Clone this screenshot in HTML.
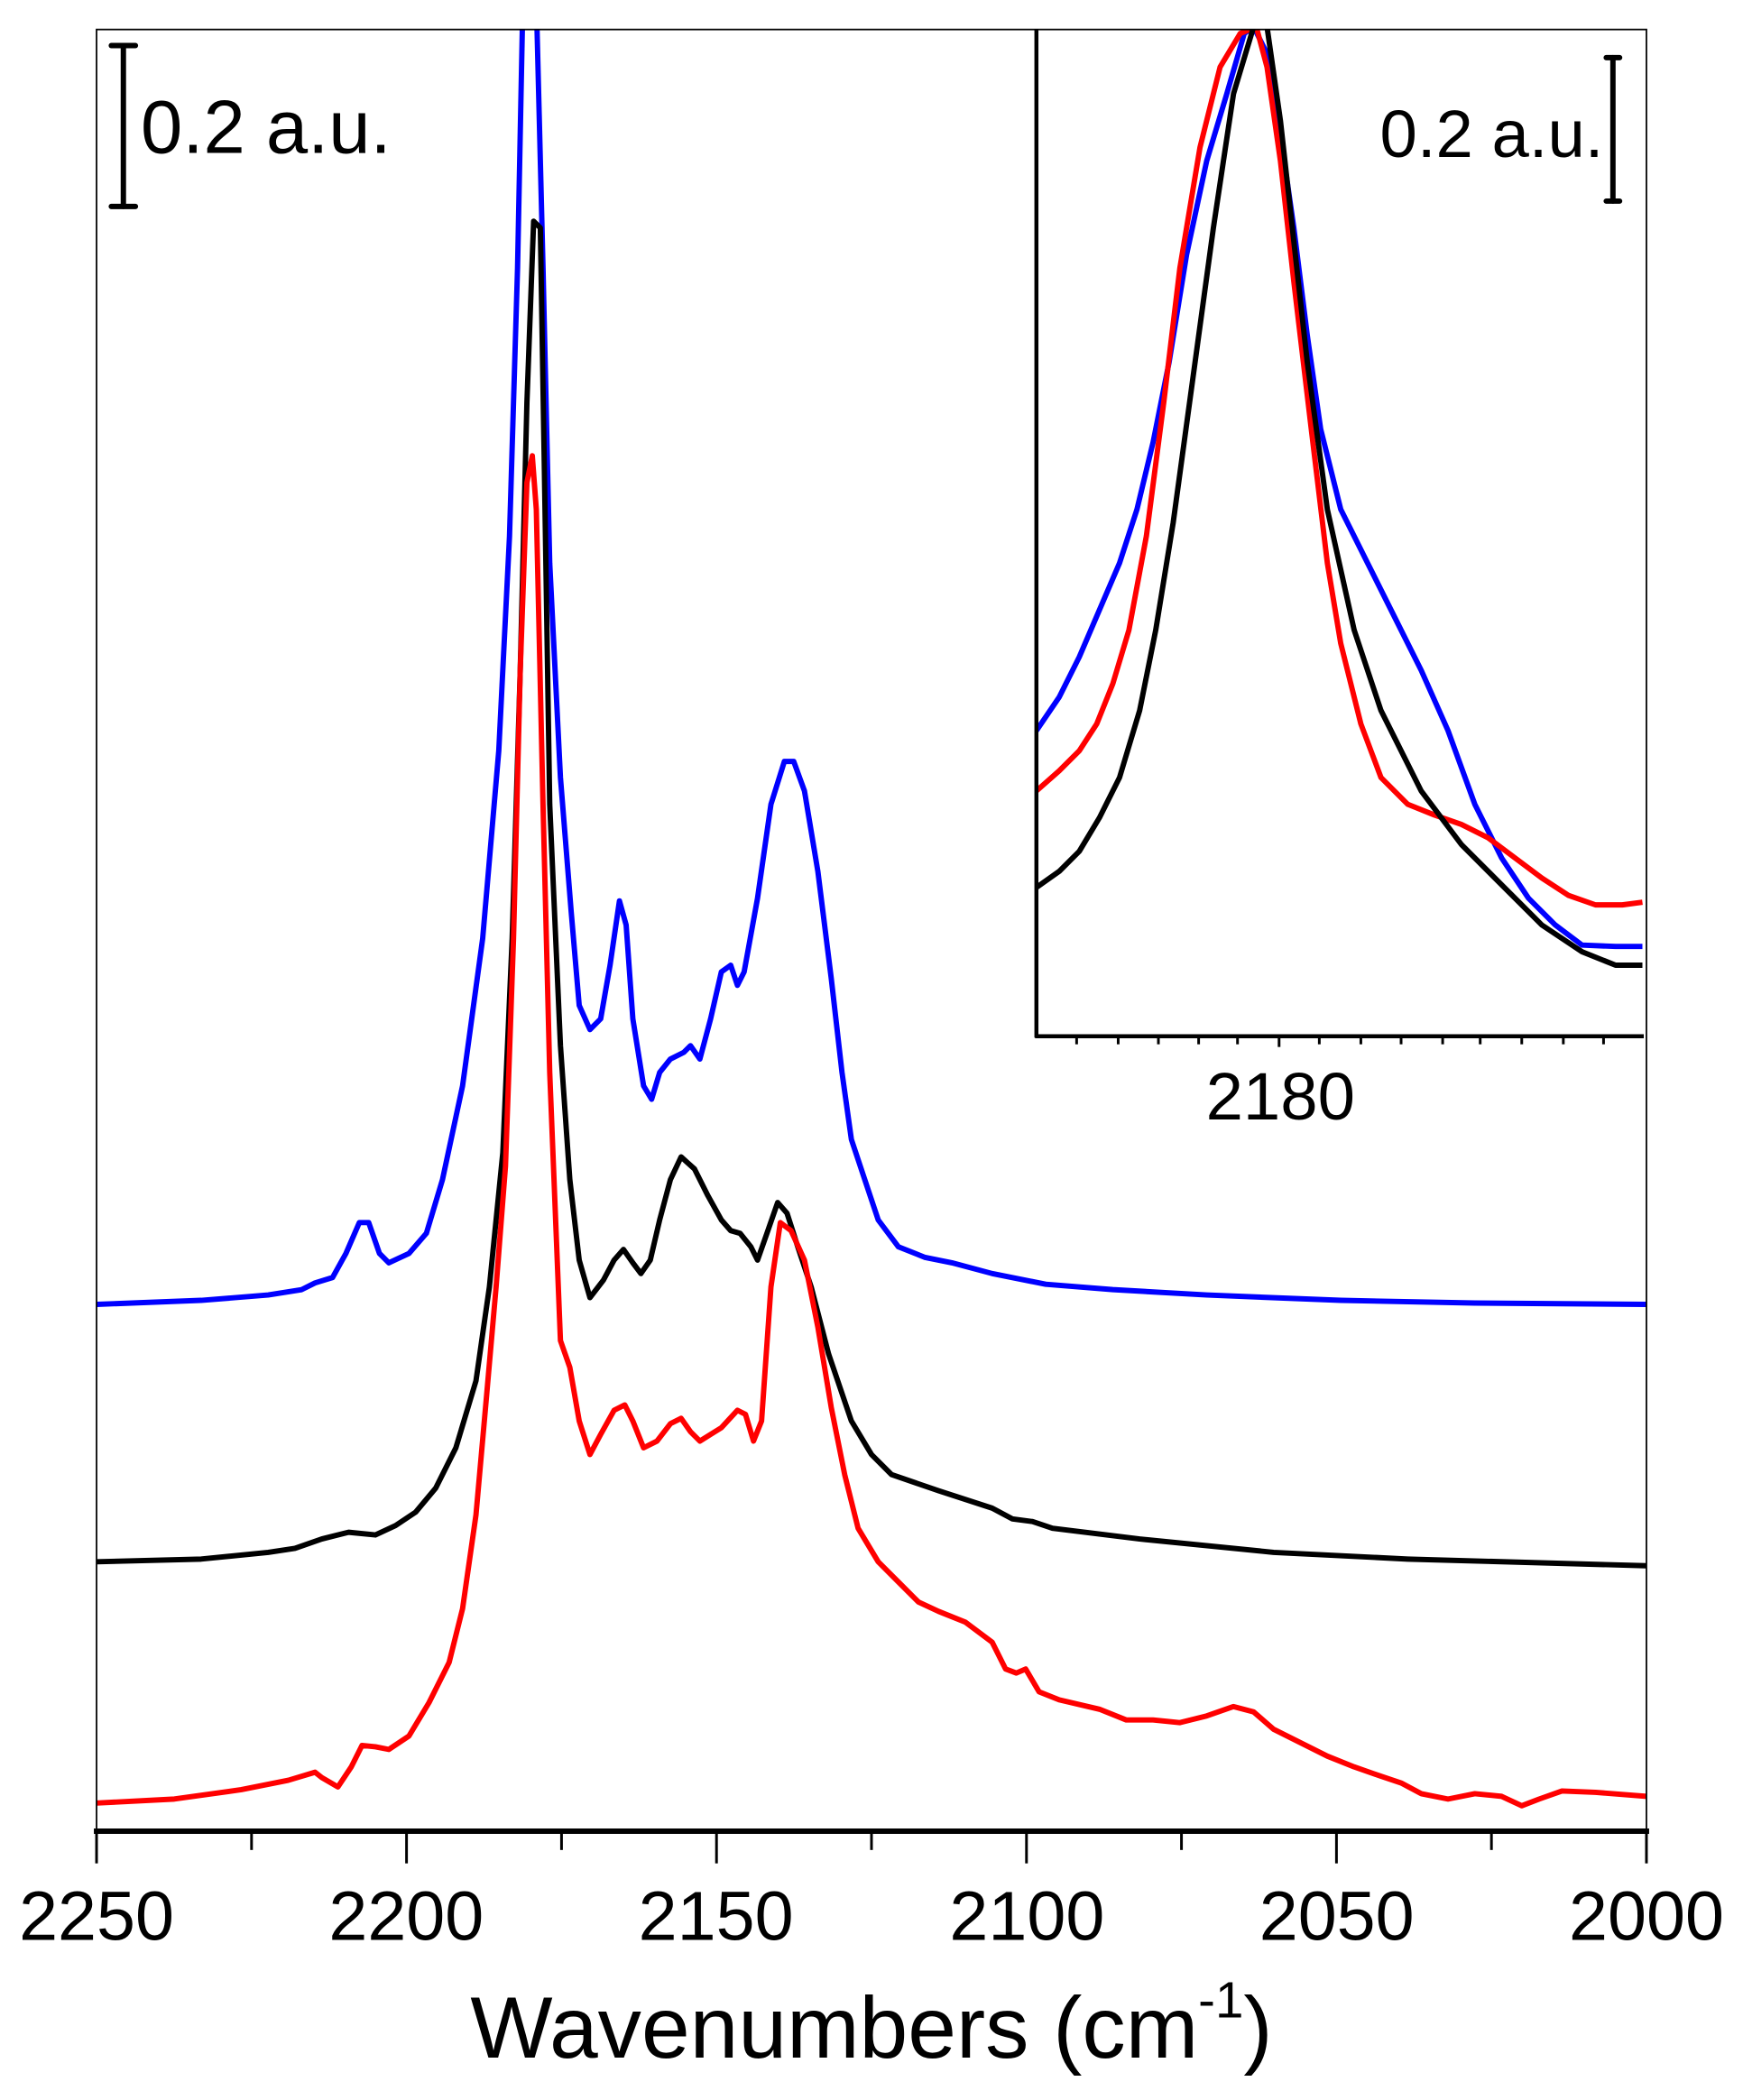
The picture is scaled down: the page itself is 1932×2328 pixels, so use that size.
<!DOCTYPE html>
<html><head><meta charset="utf-8"><style>html,body{margin:0;padding:0;background:#fff}svg{display:block}</style></head>
<body>
<svg width="1932" height="2328" viewBox="0 0 1300 1566.5" xmlns="http://www.w3.org/2000/svg" font-family="Liberation Sans, Arial, sans-serif">
<rect width="1300" height="1566.5" fill="#fff"/>
<defs><clipPath id="c"><rect x="72" y="22" width="1156" height="1344"/></clipPath>
<clipPath id="ci"><rect x="773" y="22" width="455" height="751"/></clipPath></defs>
<g clip-path="url(#c)" fill="none" stroke-width="4" stroke-linejoin="round">
<polyline stroke="#0000ff" points="72,973 150,970 200,966 225,962 235,957 248,953 258,935 268,912 275,912 283,935 290,942 305,935 318,920 330,880 345,810 360,700 372,560 380,400 386,200 390,0 400,0 405,200 410,420 418,580 426,680 432,750 440,768 448,760 455,720 462,672 467,690 472,760 480,810 486,820 492,800 500,790 510,785 515,780 522,790 530,760 538,725 545,720 550,735 555,725 565,670 575,600 585,568 592,568 600,590 610,650 620,730 628,800 635,850 645,880 655,910 670,930 690,938 710,942 740,950 780,958 830,962 900,966 1000,970 1100,972 1228,973"/>
<polyline stroke="#000" points="72,1165 150,1163 200,1158 220,1155 240,1148 260,1143 280,1145 295,1138 310,1128 325,1110 340,1080 355,1030 365,960 375,860 382,700 388,500 393,300 398,165 403,170 406,350 410,600 418,780 425,880 432,940 440,968 450,955 458,940 465,932 472,942 478,950 485,940 492,910 500,880 508,863 518,872 528,892 538,910 545,918 552,920 560,930 565,940 572,920 580,897 587,905 595,930 605,960 618,1010 635,1060 650,1085 665,1100 700,1112 740,1125 755,1133 770,1135 785,1140 850,1148 950,1158 1050,1163 1228,1168"/>
<polyline stroke="#ff0000" points="72,1345 130,1342 180,1335 215,1328 235,1322 240,1326 252,1333 262,1318 270,1302 280,1303 290,1305 305,1295 320,1270 335,1240 345,1200 355,1130 363,1040 370,960 377,870 383,700 388,500 393,360 397,340 400,380 405,600 410,800 418,1000 425,1020 432,1060 440,1085 448,1070 458,1052 466,1048 472,1060 480,1080 490,1075 500,1062 508,1058 515,1068 522,1075 530,1070 538,1065 550,1052 556,1055 562,1075 568,1060 575,960 582,912 590,918 600,940 610,990 620,1050 630,1100 640,1140 655,1165 670,1180 685,1195 700,1202 720,1210 740,1225 750,1245 758,1248 765,1245 775,1262 790,1268 820,1275 840,1283 860,1283 880,1285 900,1280 920,1273 935,1277 950,1290 970,1300 990,1310 1010,1318 1030,1325 1045,1330 1060,1338 1080,1342 1100,1338 1120,1340 1135,1347 1148,1342 1165,1336 1190,1337 1228,1340"/>
</g>
<!-- inset -->
<rect x="773" y="22" width="455" height="751" fill="#fff"/>
<g clip-path="url(#ci)" fill="none" stroke-width="4" stroke-linejoin="round">
<polyline stroke="#0000ff" points="773,545 790,520 805,490 820,455 835,420 848,380 860,330 872,270 885,190 900,120 915,70 928,25 935,20 945,40 955,100 965,170 975,250 985,320 1000,380 1020,420 1040,460 1060,500 1080,545 1100,600 1120,640 1140,670 1160,690 1180,705 1205,706 1225,706"/>
<polyline stroke="#ff0000" points="773,590 790,575 805,560 818,540 830,510 842,470 855,400 868,300 880,200 895,110 910,50 925,25 937,20 945,50 955,120 965,210 978,320 990,420 1000,480 1015,540 1030,580 1050,600 1070,608 1090,615 1110,625 1130,640 1150,655 1170,668 1190,675 1210,675 1225,673"/>
<polyline stroke="#000" points="773,662 790,650 805,635 820,610 835,580 850,530 862,470 875,390 890,280 905,170 920,70 935,20 945,20 955,90 965,180 975,270 990,380 1010,470 1030,530 1060,590 1090,630 1120,660 1150,690 1180,710 1205,720 1225,720"/>
</g>
<g stroke="#000" stroke-width="3">
<line x1="773" y1="22" x2="773" y2="774"/>
<line x1="772" y1="773" x2="1226" y2="773"/>
</g>
<g stroke="#000" stroke-width="2">
<line x1="803" y1="773" x2="803" y2="779"/><line x1="834" y1="773" x2="834" y2="779"/><line x1="864" y1="773" x2="864" y2="779"/><line x1="894" y1="773" x2="894" y2="779"/><line x1="923" y1="773" x2="923" y2="779"/><line x1="954" y1="773" x2="954" y2="781"/><line x1="984" y1="773" x2="984" y2="779"/><line x1="1015" y1="773" x2="1015" y2="779"/><line x1="1045" y1="773" x2="1045" y2="779"/><line x1="1076" y1="773" x2="1076" y2="779"/><line x1="1104" y1="773" x2="1104" y2="779"/><line x1="1135" y1="773" x2="1135" y2="779"/><line x1="1166" y1="773" x2="1166" y2="779"/><line x1="1196" y1="773" x2="1196" y2="779"/>
</g>
<text x="955" y="835" font-size="50" text-anchor="middle">2180</text>
<!-- frame -->
<rect x="72" y="22" width="1156" height="1344" fill="none" stroke="#000" stroke-width="1.2"/>
<line x1="70" y1="1366" x2="1230" y2="1366" stroke="#000" stroke-width="4"/>
<g stroke="#000" stroke-width="2">
<line x1="72" y1="1366" x2="72" y2="1390"/><line x1="187.6" y1="1366" x2="187.6" y2="1380"/>
<line x1="303.2" y1="1366" x2="303.2" y2="1390"/><line x1="418.8" y1="1366" x2="418.8" y2="1380"/>
<line x1="534.4" y1="1366" x2="534.4" y2="1390"/><line x1="650" y1="1366" x2="650" y2="1380"/>
<line x1="765.6" y1="1366" x2="765.6" y2="1390"/><line x1="881.2" y1="1366" x2="881.2" y2="1380"/>
<line x1="996.8" y1="1366" x2="996.8" y2="1390"/><line x1="1112.4" y1="1366" x2="1112.4" y2="1380"/>
<line x1="1228" y1="1366" x2="1228" y2="1390"/>
</g>
<g font-size="52" text-anchor="middle">
<text x="72" y="1447">2250</text><text x="303" y="1447">2200</text><text x="534" y="1447">2150</text>
<text x="766" y="1447">2100</text><text x="997" y="1447">2050</text><text x="1228" y="1447">2000</text>
</g>
<text x="650" y="1535" font-size="65" text-anchor="middle">Wavenumbers (cm<tspan font-size="38" dy="-30">-1</tspan><tspan dy="30">)</tspan></text>
<!-- scale bars -->
<g stroke="#000" stroke-width="4" stroke-linecap="round">
<line x1="92" y1="34" x2="92" y2="154"/><line x1="83" y1="34" x2="101" y2="34"/><line x1="83" y1="154" x2="101" y2="154"/>
<line x1="1203" y1="43" x2="1203" y2="150"/><line x1="1198" y1="43" x2="1208" y2="43"/><line x1="1198" y1="150" x2="1208" y2="150"/>
</g>
<text x="105" y="114" font-size="56">0.2 a.u.</text>
<text x="1196" y="117" font-size="50" text-anchor="end">0.2 a.u.</text>
</svg>
</body></html>
